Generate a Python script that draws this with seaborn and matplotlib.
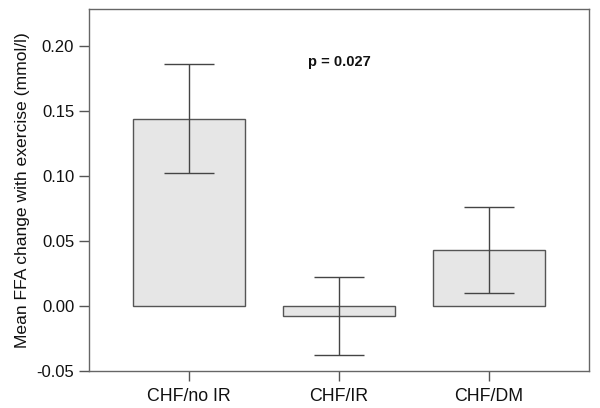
import pandas as pd
import seaborn as sns
import matplotlib.pyplot as plt

groups = ["CHF/no IR", "CHF/IR", "CHF/DM"]
means = [0.144, -0.0077, 0.0433]
err = [0.042, 0.030, 0.033]

df = pd.DataFrame({"group": groups, "mean": means})

sns.set_style("ticks")
plt.rcParams["font.family"] = ["Liberation Sans", "DejaVu Sans"]

fig = plt.figure(figsize=(6, 4.08), dpi=100)
ax = fig.add_axes([0.148, 0.091, 0.834, 0.887])

sns.barplot(data=df, x="group", y="mean", color="#e6e6e6", saturation=1,
            width=0.75, edgecolor="#555555", linewidth=1, errorbar=None, ax=ax)
ax.errorbar(range(len(groups)), means, yerr=err, fmt="none",
            ecolor="#444444", elinewidth=1, capsize=18, capthick=1)

ax.set_xlim(-0.67, 2.67)
ax.set_ylim(-0.05, 0.2285)
ax.set_yticks([-0.05, 0.00, 0.05, 0.10, 0.15, 0.20])
ax.set_yticklabels(["-0.05", "0.00", "0.05", "0.10", "0.15", "0.20"])
ax.set_xlabel("")
ax.set_ylabel("Mean FFA change with exercise (mmol/l)", fontsize=12.6,
              color="#111111", labelpad=5)
ax.tick_params(axis="both", length=7, width=1, color="#555555",
               labelcolor="#111111")
ax.tick_params(axis="y", labelsize=12)
ax.tick_params(axis="x", labelsize=12.8, pad=5)

for s in ax.spines.values():
    s.set_visible(True)
    s.set_color("#666666")
    s.set_linewidth(1)

ax.text(1, 0.188, "p = 0.027", ha="center", va="center", fontsize=10.5,
        fontweight="bold", color="#111111")

fig.savefig("out.png", dpi=100)
